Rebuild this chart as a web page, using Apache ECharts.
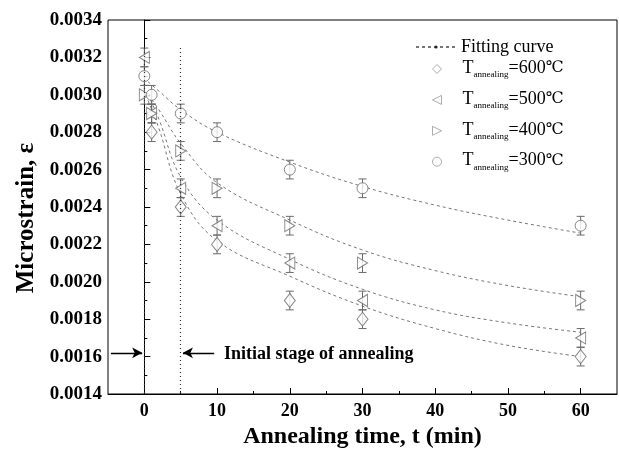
<!DOCTYPE html>
<html><head><meta charset="utf-8">
<script src="https://cdn.jsdelivr.net/npm/echarts@6/dist/echarts.min.js"></script>
<style>html,body{margin:0;padding:0;background:#fff}#c{width:619px;height:449px}</style>
</head><body><div id="c"></div>
<script>
// ---- data ----
const times = [0, 1, 5, 10, 20, 30, 60];
const strain600 = [null, 0.0028, 0.0024, 0.0022, 0.0019, 0.0018, 0.0016];
const strain500 = [0.0032, 0.0029, 0.0025, 0.0023, 0.0021, 0.0019, 0.0017];
const strain400 = [0.0030, 0.0029, 0.0027, 0.0025, 0.0023, 0.0021, 0.0019];
const strain300 = [0.0031, 0.0030, 0.0029, 0.0028, 0.0026, 0.0025, 0.0023];
const errHalf = 0.00005;
const fitTimes = [0.5, 2, 5, 10, 20, 30, 40, 50, 60];
const fit300 = [0.00307, 0.00302, 0.00292, 0.00280, 0.00264, 0.00251, 0.00241, 0.00233, 0.00226];
const fit400 = [0.00300, 0.00292, 0.00274, 0.00253, 0.00233, 0.00217, 0.00206, 0.00198, 0.00192];
const fit500 = [0.00300, 0.00287, 0.00256, 0.00233, 0.00212, 0.00196, 0.00185, 0.00178, 0.00173];
const fit600 = [0.00297, 0.00282, 0.00247, 0.00222, 0.00203, 0.00187, 0.00175, 0.00166, 0.00160];
const xTicks = [0, 10, 20, 30, 40, 50, 60];
const xMinorTicks = [5, 15, 25, 35, 45, 55];
const stageLines = [0, 5];
const stageTop = 0.00325, stageY = 0.00162;
const stageText = 'Initial stage of annealing';
const tempLabels = ['600', '500', '400', '300'];

const SERIF = '"Liberation Serif", "DejaVu Serif", serif';
const mk = '#6a6a6a';
const pairs = a => times.map((t, i) => a[i] == null ? null : [t, a[i]]).filter(Boolean);
const fitPairs = a => fitTimes.map((t, i) => [t, a[i]]);
const nameOf = n => 'T' + n;
const triLeft = 'path://M0,5L10,0L10,10Z';
const triRight = 'path://M10,5L0,0L0,10Z';

function errSeries(arr) {
  return {
    type: 'custom', silent: true, z: 3,
    data: pairs(arr),
    renderItem: (params, api) => {
      const x = api.value(0), y = api.value(1);
      const top = api.coord([x, y + errHalf]), bot = api.coord([x, y - errHalf]);
      const w = 4;
      const st = { stroke: mk, lineWidth: 1 };
      return { type: 'group', children: [
        { type: 'line', shape: { x1: top[0], y1: top[1], x2: bot[0], y2: bot[1] }, style: st },
        { type: 'line', shape: { x1: top[0] - w, y1: top[1], x2: top[0] + w, y2: top[1] }, style: st },
        { type: 'line', shape: { x1: bot[0] - w, y1: bot[1], x2: bot[0] + w, y2: bot[1] }, style: st }
      ]};
    }
  };
}
function fitSeries(arr) {
  return { name: 'Fitting curve', type: 'line', data: fitPairs(arr), smooth: 0.4,
    symbol: 'circle', symbolSize: 3, showSymbol: false, silent: true, z: 2,
    itemStyle: { color: '#222' },
    lineStyle: { color: '#777', width: 1, type: [3, 3] } };
}
function scatter(name, arr, symbol, size) {
  return { name: nameOf(name), type: 'scatter', data: pairs(arr), symbol,
    symbolSize: size, z: 4,
    itemStyle: { color: '#fff', borderColor: mk, borderWidth: 1 } };
}

const chart = echarts.init(document.getElementById('c'), null, { renderer: 'canvas' });
const option = {
  animation: false,
  backgroundColor: '#fff',
  grid: { left: 108, right: 2, top: 20, bottom: 55, containLabel: false, outerBoundsMode: 'none',
    show: true, borderColor: '#000', borderWidth: 1 },
  legend: [{
    orient: 'vertical', left: 415, top: 37, padding: 0, itemWidth: 40, itemHeight: 4, itemGap: 0, itemTextGap: 5,
    data: ['Fitting curve'],
    textStyle: { fontFamily: SERIF, fontSize: 18, color: '#000', lineHeight: 20 }
  }, {
    orient: 'vertical', left: 432, top: 56, padding: 0, itemWidth: 9, itemHeight: 9, itemGap: 7.9, itemTextGap: 5,
    data: tempLabels.map(nameOf),
    itemStyle: { color: '#fff', borderColor: '#999', borderWidth: 1 },
    formatter: n => '{g|}{a|T}{s|annealing}{a|=' + n.slice(1) + '}{c|℃}',
    textStyle: { rich: {
      g: { width: 16, lineHeight: 20 },
      a: { fontFamily: SERIF, fontSize: 18, color: '#000', lineHeight: 20, verticalAlign: 'top' },
      c: { fontFamily: SERIF, fontSize: 16, color: '#000', lineHeight: 20, verticalAlign: 'top', padding: [1, 0, 0, 0] },
      s: { fontFamily: SERIF, fontSize: 9, color: '#000', lineHeight: 12, verticalAlign: 'bottom', padding: [14, 0, 0, 0] }
    } }
  }],
  xAxis: [{
    type: 'value', min: -5, max: 65,
    name: 'Annealing time, t (min)', nameLocation: 'middle', nameGap: 25,
    nameTextStyle: { fontFamily: SERIF, fontWeight: 'bold', fontSize: 24, color: '#000' },
    axisLine: { onZero: false, lineStyle: { color: '#000', width: 1 } },
    axisTick: { inside: true, length: 6, customValues: xTicks, lineStyle: { color: '#000' } },
    axisLabel: { customValues: xTicks, margin: 8, fontFamily: SERIF, fontWeight: 'bold', fontSize: 18, color: '#000' },
    splitLine: { show: false }
  }, {
    type: 'value', min: -5, max: 65, position: 'bottom',
    axisLine: { show: false }, axisLabel: { show: false }, splitLine: { show: false },
    axisTick: { inside: true, length: 3, customValues: xMinorTicks, lineStyle: { color: '#000' } }
  }],
  yAxis: {
    type: 'value', min: 0.0014, max: 0.0034, interval: 0.0002,
    name: 'Microstrain, ε', nameLocation: 'middle', nameGap: 69,
    nameTextStyle: { fontFamily: SERIF, fontWeight: 'bold', fontSize: 25, color: '#000', padding: [0, 22, 0, 0] },
    axisLine: { show: true, lineStyle: { color: '#000', width: 1 } },
    axisTick: { inside: true, length: 6, lineStyle: { color: '#000' } },
    minorTick: { show: true, splitNumber: 2, length: 3, lineStyle: { color: '#000' } },
    axisLabel: { margin: 6, fontFamily: SERIF, fontWeight: 'bold', fontSize: 19, color: '#000',
      formatter: v => v.toFixed(4) },
    splitLine: { show: false }
  },
  series: [
    Object.assign(fitSeries(fit600), {
      markLine: {
        silent: true, symbol: 'none', label: { show: false },
        lineStyle: { color: '#333', type: [1, 3], width: 1.2 },
        data: stageLines.map(t => [{ coord: [t, stageTop] }, { coord: [t, 0.0014] }])
      }
    }),
    fitSeries(fit500), fitSeries(fit400),
    Object.assign(fitSeries(fit300), {
      markLine: {
        silent: true, symbol: ['none', 'arrow'], symbolSize: [8, 10], label: { show: false },
        lineStyle: { color: '#000', type: 'solid', width: 1.3 },
        data: [
          [{ coord: [-4.6, stageY] }, { coord: [-0.3, stageY] }],
          [{ coord: [9.6, stageY] }, { coord: [5.3, stageY] }]
        ]
      }
    }),
    errSeries(strain600), errSeries(strain500), errSeries(strain400), errSeries(strain300),
    scatter('600', strain600, 'diamond', [11, 14]),
    scatter('500', strain500, triLeft, [10, 12]),
    scatter('400', strain400, triRight, [10, 12]),
    scatter('300', strain300, 'circle', 11)
  ],
  graphic: [{
    type: 'text', left: 224, top: 345,
    style: { text: stageText, font: 'bold 18px ' + SERIF, fill: '#000' }
  }]
};
chart.setOption(option);
</script></body></html>
